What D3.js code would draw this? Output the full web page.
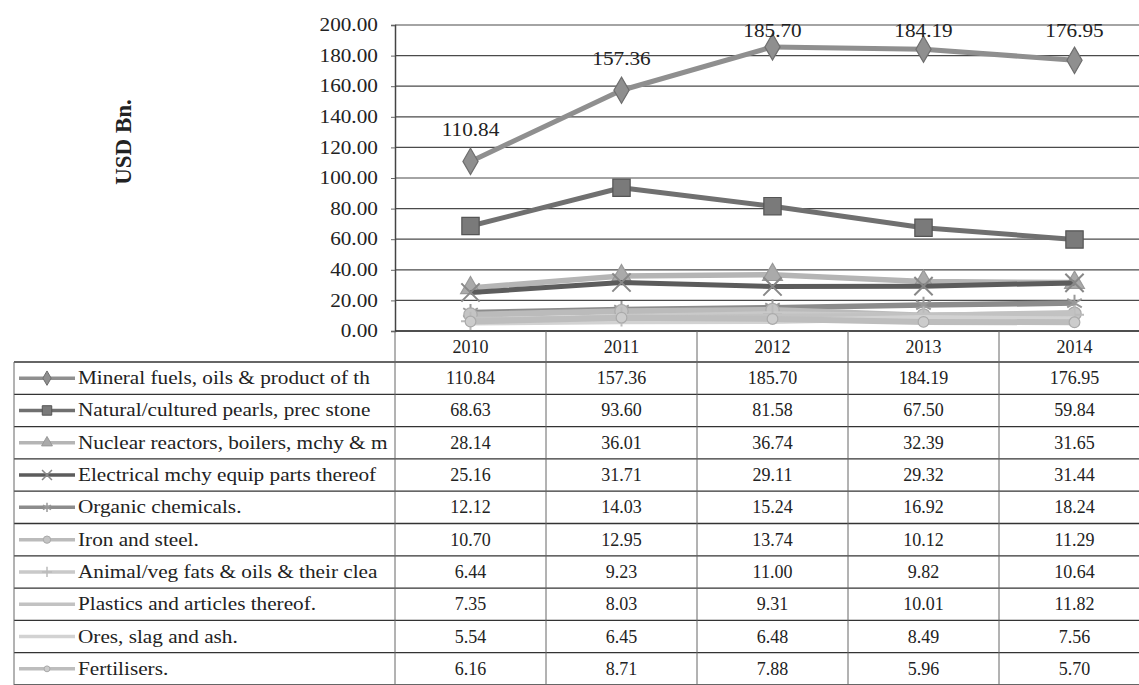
<!DOCTYPE html>
<html>
<head>
<meta charset="utf-8">
<script src="https://cdn.jsdelivr.net/npm/d3@7"></script>
<style>
  html, body { margin: 0; padding: 0; background: #fff; }
  svg { display: block; }
  text { font-family: "Liberation Serif", "DejaVu Serif", serif; fill: #222; }
</style>
</head>
<body>
<div id="chart"></div>
<script>
// ---------- DATA ----------
const years = ["2010", "2011", "2012", "2013", "2014"];
const seriesNames = [
  "Mineral fuels, oils & product of th",
  "Natural/cultured pearls, prec stone",
  "Nuclear reactors, boilers, mchy & m",
  "Electrical mchy equip parts thereof",
  "Organic chemicals.",
  "Iron and steel.",
  "Animal/veg fats & oils & their clea",
  "Plastics and articles thereof.",
  "Ores, slag and ash.",
  "Fertilisers."
];
const mineralFuels   = [110.84, 157.36, 185.70, 184.19, 176.95];
const naturalPearls  = [68.63, 93.60, 81.58, 67.50, 59.84];
const nuclearReact   = [28.14, 36.01, 36.74, 32.39, 31.65];
const electricalMchy = [25.16, 31.71, 29.11, 29.32, 31.44];
const organicChem    = [12.12, 14.03, 15.24, 16.92, 18.24];
const ironSteel      = [10.70, 12.95, 13.74, 10.12, 11.29];
const animalVegFats  = [6.44, 9.23, 11.00, 9.82, 10.64];
const plastics       = [7.35, 8.03, 9.31, 10.01, 11.82];
const oresSlag       = [5.54, 6.45, 6.48, 8.49, 7.56];
const fertilisers    = [6.16, 8.71, 7.88, 5.96, 5.70];
const seriesValues = [mineralFuels, naturalPearls, nuclearReact, electricalMchy,
  organicChem, ironSteel, animalVegFats, plastics, oresSlag, fertilisers];
const yTicks = [0, 20, 40, 60, 80, 100, 120, 140, 160, 180, 200];
const yTitle = "USD Bn.";
const labeledSeries = 0; // data labels shown for first series

// ---------- STYLES ----------
const W = 1139, H = 685;
const plotLeft = 395, band = 151, plotTop = 25, plotBottom = 331;
const headerH = 31, rowH = 32.3, tableLeft = 14;
const stretch = 1.18;
const styles = [
  { line: "#8f8f8f", width: 5, sym: "diamond", size: 200, fill: "#8f8f8f", stroke: "#6e6e6e" },
  { line: "#707070", width: 5, sym: "square",  size: 300, fill: "#7a7a7a", stroke: "#555" },
  { line: "#b5b5b5", width: 5.5, sym: "triangle", size: 170, fill: "#aaa", stroke: "#999" },
  { line: "#5c5c5c", width: 5, sym: "times",   size: 220, fill: "none", stroke: "#888" },
  { line: "#8c8c8c", width: 5.5, sym: "asterisk", size: 200, fill: "none", stroke: "#999" },
  { line: "#bbbbbb", width: 6, sym: "circle",  size: 140, fill: "#c4c4c4", stroke: "#aaa" },
  { line: "#c9c9c9", width: 6, sym: "plus",    size: 120, fill: "none", stroke: "#bbb" },
  { line: "#c2c2c2", width: 6, sym: null },
  { line: "#d2d2d2", width: 6, sym: null },
  { line: "#bdbdbd", width: 6, sym: "circle",  size: 90, fill: "#ccc", stroke: "#aaa" }
];
function symType(name) {
  const m = {
    diamond: d3.symbolDiamond, square: d3.symbolSquare, triangle: d3.symbolTriangle,
    circle: d3.symbolCircle,
    times: d3.symbolTimes || d3.symbolCross,
    asterisk: d3.symbolAsterisk || d3.symbolCross,
    plus: d3.symbolPlus || d3.symbolCross
  };
  return m[name];
}
const strokeSyms = new Set(["times", "asterisk", "plus"]);

// ---------- CHART ----------
const svg = d3.select("#chart").append("svg").attr("width", W).attr("height", H);

const x = d3.scaleBand().domain(years).range([plotLeft, plotLeft + band * years.length]).padding(0);
const y = d3.scaleLinear().domain([0, 200]).range([plotBottom, plotTop]);
const cx = d => x(d) + x.bandwidth() / 2;

// gridlines
svg.append("g").selectAll("line").data(yTicks).join("line")
  .attr("x1", plotLeft).attr("x2", W)
  .attr("y1", d => y(d)).attr("y2", d => y(d))
  .attr("stroke", "#4a4a4a").attr("stroke-width", 1.2);

// y axis
const yAxis = svg.append("g").attr("transform", `translate(${plotLeft},0)`)
  .call(d3.axisLeft(y).tickValues(yTicks).tickFormat(d3.format(".2f")).tickSize(4).tickPadding(10.5));
yAxis.select(".domain").attr("stroke", "#444").attr("stroke-width", 1.5);
yAxis.selectAll(".tick line").attr("stroke", "#666");
yAxis.selectAll("text")
  .attr("font-size", 18).attr("fill", "#333")
  .attr("font-family", "Liberation Serif, serif")
  .attr("transform", `scale(${stretch},1)`);

// y title
svg.append("text")
  .attr("transform", `translate(131,142) rotate(-90)`)
  .attr("text-anchor", "middle")
  .attr("font-size", 23).attr("font-weight", "bold").attr("fill", "#333")
  .text(yTitle);

// lines
const lineGen = (vals) => d3.line().x((v, i) => cx(years[i])).y(v => y(v))(vals);
const gSeries = svg.append("g");
seriesValues.forEach((vals, si) => {
  const st = styles[si];
  gSeries.append("path").attr("d", lineGen(vals))
    .attr("fill", "none").attr("stroke", st.line).attr("stroke-width", st.width)
    .attr("stroke-linejoin", "round");
  if (st.sym) {
    const sym = d3.symbol().type(symType(st.sym)).size(st.size);
    const isStroke = strokeSyms.has(st.sym);
    gSeries.append("g").selectAll("path").data(vals).join("path")
      .attr("transform", (v, i) => `translate(${cx(years[i])},${y(v)})`)
      .attr("d", sym)
      .attr("fill", isStroke ? "none" : st.fill)
      .attr("stroke", st.stroke).attr("stroke-width", isStroke ? 2 : 1.2);
  }
});

// data labels for first series
svg.append("g").selectAll("text").data(seriesValues[labeledSeries]).join("text")
  .attr("transform", (v, i) => `translate(${cx(years[i])},${Math.max(y(v) - 31, 31) + 6}) scale(${stretch},1)`)
  .attr("text-anchor", "middle").attr("font-size", 18).attr("fill", "#333")
  .text(v => d3.format(".2f")(v));

// ---------- DATA TABLE ----------
const tbl = svg.append("g");
const rowTop = i => plotBottom + headerH + i * rowH;
// header years
tbl.selectAll("text.yr").data(years).join("text").attr("class", "yr")
  .attr("x", d => cx(d)).attr("y", plotBottom + headerH / 2 + 6)
  .attr("text-anchor", "middle").attr("font-size", 18).attr("fill", "#333")
  .text(d => d);
// horizontal lines
const hLines = d3.range(seriesNames.length + 1).map(i => rowTop(i));
tbl.append("line").attr("x1", plotLeft).attr("x2", W).attr("y1", plotBottom).attr("y2", plotBottom)
  .attr("stroke", "#333").attr("stroke-width", 1.5);
tbl.selectAll("line.h").data(hLines).join("line").attr("class", "h")
  .attr("x1", tableLeft).attr("x2", W).attr("y1", d => d).attr("y2", d => d)
  .attr("stroke", "#333").attr("stroke-width", 1.3);
// vertical lines
tbl.selectAll("line.v").data(years.concat(["end"])).join("line").attr("class", "v")
  .attr("x1", (d, i) => plotLeft + i * x.bandwidth()).attr("x2", (d, i) => plotLeft + i * x.bandwidth())
  .attr("y1", plotBottom).attr("y2", H)
  .attr("stroke", "#666").attr("stroke-width", 1);
tbl.append("line").attr("x1", tableLeft).attr("x2", tableLeft).attr("y1", rowTop(0)).attr("y2", H)
  .attr("stroke", "#666").attr("stroke-width", 1);

// rows
seriesNames.forEach((name, si) => {
  const st = styles[si];
  const yc = rowTop(si) + rowH / 2;
  const row = tbl.append("g");
  row.append("line").attr("x1", 19).attr("x2", 75).attr("y1", yc).attr("y2", yc)
    .attr("stroke", st.line).attr("stroke-width", 3.5);
  if (st.sym) {
    const isStroke = strokeSyms.has(st.sym);
    row.append("path").attr("transform", `translate(47,${yc})`)
      .attr("d", d3.symbol().type(symType(st.sym)).size(st.size * 0.3))
      .attr("fill", isStroke ? "none" : st.fill).attr("stroke", st.stroke)
      .attr("stroke-width", isStroke ? 1.5 : 1);
  }
  row.append("text").attr("transform", `translate(78,${yc + 6}) scale(${stretch},1)`)
    .attr("font-size", 18).attr("fill", "#333").text(name);
  row.selectAll("text.v").data(seriesValues[si]).join("text").attr("class", "v")
    .attr("x", (v, i) => cx(years[i])).attr("y", yc + 6)
    .attr("text-anchor", "middle").attr("font-size", 18).attr("fill", "#333")
    .text(v => d3.format(".2f")(v));
});
</script>
</body>
</html>
